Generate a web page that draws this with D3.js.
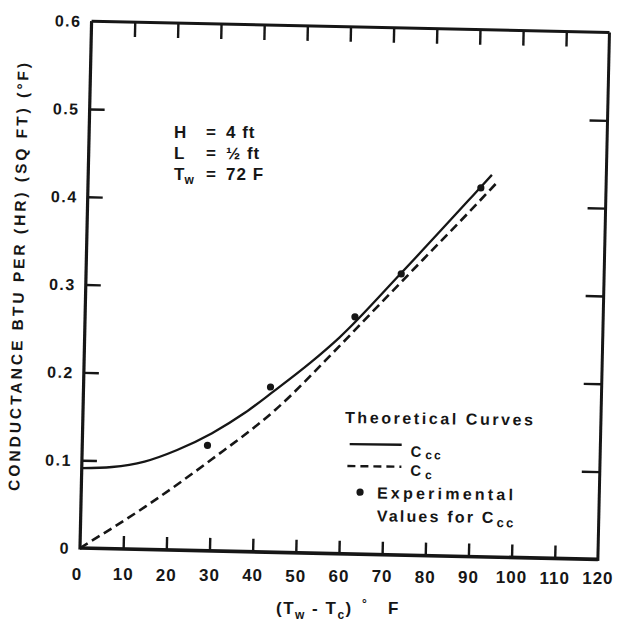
<!DOCTYPE html>
<html><head><meta charset="utf-8">
<script src="https://cdn.jsdelivr.net/npm/d3@7"></script>
<style>
body{margin:0;background:#fff}
text{font-family:"Liberation Sans",Arial,sans-serif;font-weight:bold;fill:#161616}
</style>
</head><body><svg id="c" width="617" height="623"></svg>
<script>
// ---- data ----
const xTicks = [0,10,20,30,40,50,60,70,80,90,100,110,120];
const xTickLabels = ["0","10","20","30","40","50","60","70","80","90","100","110","120"];
const yTicks = [0,0.1,0.2,0.3,0.4,0.5,0.6];
const yTickLabels = ["0","0.1","0.2","0.3","0.4","0.5","0.6"];
// theoretical C_cc (solid)
const ccX = [0, 7, 14.5, 22, 30, 37.5, 43.5, 52.5, 59, 73, 91, 93.5];
const ccY = [0.091, 0.093, 0.1, 0.114, 0.134, 0.158, 0.181, 0.217, 0.246, 0.321, 0.421, 0.435];
// theoretical C_c (dashed)
const cX = [0, 15, 30, 44.5, 59, 68, 78, 88, 95];
const cY = [0, 0.049, 0.104, 0.162, 0.236, 0.284, 0.337, 0.39, 0.428];
// experimental values for C_cc
const expX = [29, 43.3, 62.5, 73, 91];
const expY = [0.12, 0.188, 0.27, 0.32, 0.42];

// ---- layout ----
const W = 617, H = 623;
const ox = 80, oy = 548, pw = 518, ph = 527, ang = 1.26;
const rad = ang * Math.PI / 180;
const ink = "#161616";

const svg = d3.select("#c");
svg.append("rect").attr("width", W).attr("height", H).attr("fill", "#fff");

const x = d3.scaleLinear().domain([0, 120]).range([0, pw]);
const y = d3.scaleLinear().domain([0, 0.6]).range([0, -ph]);

const g = svg.append("g").attr("transform", `translate(${ox},${oy}) rotate(${ang})`);

function styleAxis(s, w) {
  s.select(".domain").remove();
  s.selectAll("line").attr("stroke", ink).attr("stroke-width", w);
}
const innerX = xTicks.slice(1, -1);
const innerY = yTicks.slice(1, -1);
g.append("g").call(d3.axisTop(x).tickValues(innerX).tickSize(13).tickFormat("")).call(s => styleAxis(s, 2.4));
g.append("g").attr("transform", `translate(0,${y(0.6)})`)
  .call(d3.axisBottom(x).tickValues(innerX).tickSize(15).tickFormat("")).call(s => styleAxis(s, 2.4));
g.append("g").call(d3.axisRight(y).tickValues(innerY).tickSize(15).tickFormat("")).call(s => styleAxis(s, 2.4));
g.append("g").attr("transform", `translate(${pw},0)`)
  .call(d3.axisLeft(y).tickValues(innerY).tickSize(18).tickFormat("")).call(s => styleAxis(s, 2.4));

// frame
g.append("line").attr("x1", 0).attr("y1", 0).attr("x2", pw).attr("y2", 0).attr("stroke", ink).attr("stroke-width", 3.6);
g.append("line").attr("x1", 0).attr("y1", y(0.6)).attr("x2", pw).attr("y2", y(0.6)).attr("stroke", ink).attr("stroke-width", 3);
g.append("line").attr("x1", 0).attr("y1", 1.5).attr("x2", 0).attr("y2", y(0.6)).attr("stroke", ink).attr("stroke-width", 3.2);
g.append("line").attr("x1", pw).attr("y1", 1.5).attr("x2", pw).attr("y2", y(0.6)).attr("stroke", ink).attr("stroke-width", 3);

// y tick labels
g.selectAll(".ylab").data(yTicks).enter().append("text")
  .attr("x", -10).attr("y", d => y(d) + 6).attr("text-anchor", "end")
  .attr("font-size", 16).attr("letter-spacing", 1.5)
  .text((d, i) => yTickLabels[i]);

// curves
const line = d3.line().x(d => x(d[0])).y(d => y(d[1])).curve(d3.curveMonotoneX);
g.append("path").datum(ccX.map((v, i) => [v, ccY[i]])).attr("d", line)
  .attr("fill", "none").attr("stroke", ink).attr("stroke-width", 2.3);
g.append("path").datum(cX.map((v, i) => [v, cY[i]])).attr("d", line)
  .attr("fill", "none").attr("stroke", ink).attr("stroke-width", 2.6).attr("stroke-dasharray", "9,5");
g.selectAll(".pt").data(expX).enter().append("circle")
  .attr("cx", d => x(d)).attr("cy", (d, i) => y(expY[i])).attr("r", 3.6).attr("fill", ink);

// x tick labels (placed in page coordinates along the tilted axis)
xTicks.forEach((t, i) => {
  const u = x(t);
  svg.append("text")
    .attr("x", ox + u * Math.cos(rad) - (i === 0 ? 3 : 0))
    .attr("y", 580 + u * (4 / pw))
    .attr("text-anchor", "middle").attr("font-size", 17).attr("letter-spacing", 1)
    .text(xTickLabels[i]);
});

// y axis title
svg.append("text")
  .attr("transform", `translate(24,277) rotate(${-90 + ang})`)
  .attr("text-anchor", "middle").attr("font-size", 15.5)
  .attr("textLength", 428).attr("lengthAdjust", "spacing")
  .text("CONDUCTANCE BTU PER (HR) (SQ FT) (°F)");

// x axis title
const xt = svg.append("text").attr("x", 276).attr("y", 614).attr("font-size", 17).attr("letter-spacing", 1.5);
xt.append("tspan").text("(T");
xt.append("tspan").attr("font-size", 12).attr("dy", 5).text("w");
xt.append("tspan").attr("dy", -5).text(" - T");
xt.append("tspan").attr("font-size", 12).attr("dy", 5).text("c");
xt.append("tspan").attr("dy", -5).text(")");
svg.append("text").attr("x", 362).attr("y", 608).attr("font-size", 12).text("°");
svg.append("text").attr("x", 388).attr("y", 614).attr("font-size", 17).text("F");

// annotation
const ann = svg.append("g");
function annRow(yb, lab, sub, val) {
  const t = ann.append("text").attr("x", 174).attr("y", yb).attr("font-size", 17);
  t.append("tspan").text(lab);
  if (sub) t.append("tspan").attr("font-size", 12).attr("dy", 4).text(sub);
  ann.append("text").attr("x", 206).attr("y", yb).attr("font-size", 17).text("=");
  ann.append("text").attr("x", 226).attr("y", yb).attr("font-size", 17).attr("letter-spacing", 1).text(val);
}
annRow(138, "H", null, "4 ft");
annRow(159, "L", null, "½ ft");
annRow(180, "T", "w", "72 F");

// legend
const lg = svg.append("g").attr("transform", `rotate(${ang * 0.6},345,420)`);
lg.append("text").attr("x", 345).attr("y", 423).attr("font-size", 16)
  .attr("textLength", 188).attr("lengthAdjust", "spacing").text("Theoretical Curves");
lg.append("line").attr("x1", 350).attr("x2", 402).attr("y1", 444).attr("y2", 444).attr("stroke", ink).attr("stroke-width", 2.3);
const l1 = lg.append("text").attr("x", 411).attr("y", 456).attr("font-size", 15).attr("letter-spacing", 2);
l1.append("tspan").text("C");
l1.append("tspan").attr("font-size", 12).attr("dy", 2).attr("dx", 2).text("cc");
lg.append("line").attr("x1", 348).attr("x2", 402).attr("y1", 466).attr("y2", 466).attr("stroke", ink)
  .attr("stroke-width", 2.4).attr("stroke-dasharray", "8,5");
const l2 = lg.append("text").attr("x", 411).attr("y", 475).attr("font-size", 15).attr("letter-spacing", 2);
l2.append("tspan").text("C");
l2.append("tspan").attr("font-size", 12).attr("dy", 3).attr("dx", 2).text("c");
lg.append("circle").attr("cx", 361).attr("cy", 492).attr("r", 3.6).attr("fill", ink);
lg.append("text").attr("x", 378).attr("y", 498).attr("font-size", 16)
  .attr("textLength", 136).attr("lengthAdjust", "spacing").text("Experimental");
const l3 = lg.append("text").attr("x", 378).attr("y", 521).attr("font-size", 16).attr("letter-spacing", 2.2);
l3.append("tspan").text("Values for C");
l3.append("tspan").attr("font-size", 13).attr("dy", 4).attr("dx", 1).text("cc");
</script>
</body></html>
